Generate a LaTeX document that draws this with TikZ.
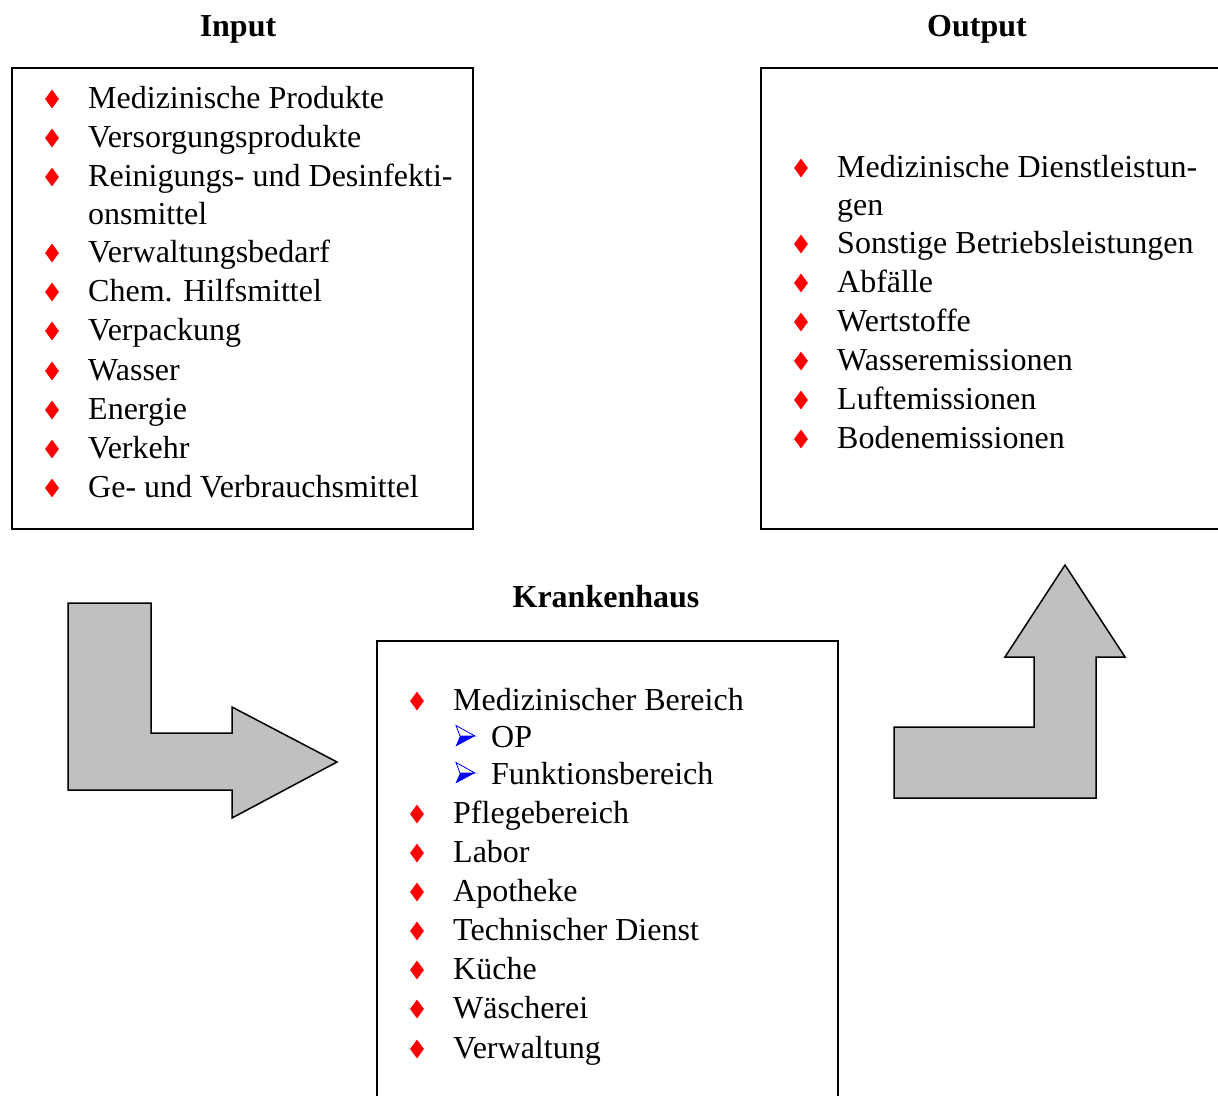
\documentclass[tikz,border=0pt]{standalone}
\usepackage{fontspec}
\setmainfont{Liberation Serif}
\usetikzlibrary{shapes.geometric}
\definecolor{arrowgray}{HTML}{C0C0C0}
\tikzset{
  boxframe/.style={draw=black, line width=1.8pt, fill=none, inner sep=0pt, anchor=north west},
  itemtext/.style={anchor=base west, inner sep=0pt, align=left, font=\fontsize{32}{38}\selectfont},
  titletext/.style={anchor=base, inner sep=0pt, font=\fontsize{32}{38.5}\selectfont\bfseries},
  bullet/.style={shape=diamond, fill=red, draw=none, inner sep=0pt, minimum width=14pt, minimum height=19pt, shape aspect=0.74},
  bigarrow/.style={fill=arrowgray, draw=black, line width=1.5pt, line join=miter},
  subarrow/.pic={
    \fill[white] (-9,-10.5) -- (10,0) -- (-5,0) -- cycle;
    \draw[blue, line width=0.8pt, line join=miter] (-9,-10.5) -- (10,0) -- (-5,0) -- cycle;
    \fill[blue] (-5,0) -- (10,0) -- (-9.5,10.5) -- cycle;
  }
}
\begin{document}
\begin{tikzpicture}[x=1pt, y=-1pt]
\useasboundingbox (0,0) rectangle (1218,1095);
\fill[white] (0,0) rectangle (1218,1095);

% titles
\node[titletext] (tin) at (238,36) {Input};
\node[titletext] (tout) at (977,36) {Output};
\node[titletext] (tkh) at (606,607) {Krankenhaus};

% boxes
\node[boxframe, minimum width=461pt, minimum height=461pt] (inbox) at (11,67) {};
\node[boxframe, minimum width=462pt, minimum height=461pt] (outbox) at (760,67) {};
\node[boxframe, minimum width=461pt, minimum height=470pt] (khbox) at (376,640) {};

% input items
\node[bullet] (ib1) at (52,99) {};
\node[itemtext] (i1) at (88,108) {Medizinische Produkte};
\node[bullet] (ib2) at (52,138) {};
\node[itemtext] (i2) at (88,147) {Versorgungsprodukte};
\node[bullet] (ib3) at (52,177) {};
\node[itemtext] (i3) at (88,224) {Reinigungs- und Desinfekti-\\onsmittel};
\node[bullet] (ib4) at (52,253) {};
\node[itemtext] (i4) at (88,262) {Verwaltungsbedarf};
\node[bullet] (ib5) at (52,292) {};
\node[itemtext] (i5) at (88,301) {Chem. Hilfsmittel};
\node[bullet] (ib6) at (52,331) {};
\node[itemtext] (i6) at (88,340) {Verpackung};
\node[bullet] (ib7) at (52,371) {};
\node[itemtext] (i7) at (88,380) {Wasser};
\node[bullet] (ib8) at (52,410) {};
\node[itemtext] (i8) at (88,419) {Energie};
\node[bullet] (ib9) at (52,449) {};
\node[itemtext] (i9) at (88,458) {Verkehr};
\node[bullet] (ib10) at (52,488) {};
\node[itemtext] (i10) at (88,497) {Ge- und Verbrauchsmittel};

% output items
\node[bullet] (ob1) at (801,168) {};
\node[itemtext] (o1) at (837,215) {Medizinische Dienstleistun-\\gen};
\node[bullet] (ob2) at (801,244) {};
\node[itemtext] (o2) at (837,253) {Sonstige Betriebsleistungen};
\node[bullet] (ob3) at (801,283) {};
\node[itemtext] (o3) at (837,292) {Abfälle};
\node[bullet] (ob4) at (801,322) {};
\node[itemtext] (o4) at (837,331) {Wertstoffe};
\node[bullet] (ob5) at (801,361) {};
\node[itemtext] (o5) at (837,370) {Wasseremissionen};
\node[bullet] (ob6) at (801,400) {};
\node[itemtext] (o6) at (837,409) {Luftemissionen};
\node[bullet] (ob7) at (801,439) {};
\node[itemtext] (o7) at (837,448) {Bodenemissionen};

% Krankenhaus items
\node[bullet] (kb1) at (417,701) {};
\node[itemtext] (k1) at (453,710) {Medizinischer Bereich};
\pic at (465,736) {subarrow};
\node[itemtext] (k1a) at (491,747) {OP};
\pic at (465,773) {subarrow};
\node[itemtext] (k1b) at (491,784) {Funktionsbereich};
\node[bullet] (kb2) at (417,814) {};
\node[itemtext] (k2) at (453,823) {Pflegebereich};
\node[bullet] (kb3) at (417,853) {};
\node[itemtext] (k3) at (453,862) {Labor};
\node[bullet] (kb4) at (417,892) {};
\node[itemtext] (k4) at (453,901) {Apotheke};
\node[bullet] (kb5) at (417,931) {};
\node[itemtext] (k5) at (453,940) {Technischer Dienst};
\node[bullet] (kb6) at (417,970) {};
\node[itemtext] (k6) at (453,979) {Küche};
\node[bullet] (kb7) at (417,1009) {};
\node[itemtext] (k7) at (453,1018) {Wäscherei};
\node[bullet] (kb8) at (417,1049) {};
\node[itemtext] (k8) at (453,1058) {Verwaltung};

% big bent arrows
\draw[bigarrow] (68,603) -- (151,603) -- (151,733) -- (232,733) -- (232,707) -- (337,762) -- (232,818) -- (232,790) -- (68,790) -- cycle;
\draw[bigarrow] (894,798) -- (894,727) -- (1034,727) -- (1034,657) -- (1005,657) -- (1065,565) -- (1125,657) -- (1096,657) -- (1096,798) -- cycle;
\end{tikzpicture}
\end{document}
